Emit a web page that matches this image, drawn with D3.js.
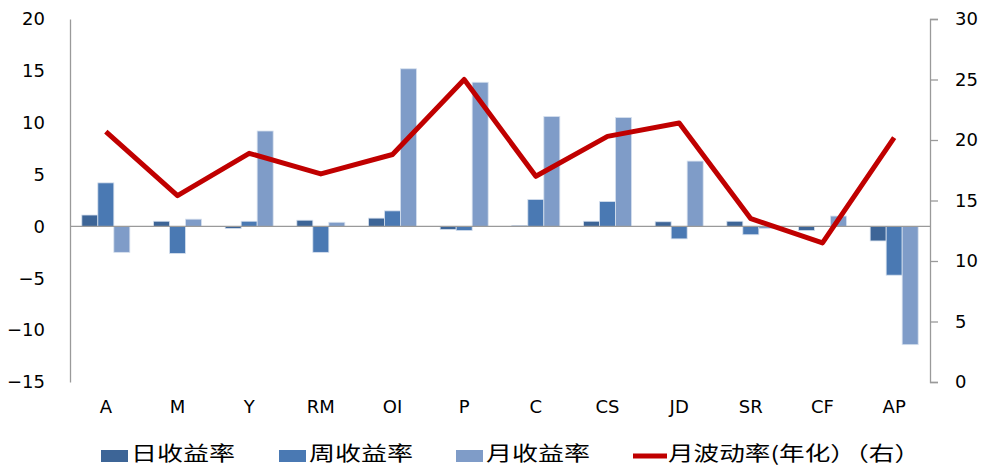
<!DOCTYPE html>
<html>
<head>
<meta charset="utf-8">
<script src="https://cdn.jsdelivr.net/npm/d3@7"></script>
<style>
  html, body { margin: 0; padding: 0; background: #fff; }
  svg { display: block; }
  .tick text { font-family: "DejaVu Sans", Verdana, sans-serif; font-size: 18px; fill: #000; }
  .legend text { font-family: "Noto Sans CJK SC", sans-serif; font-size: 20px; fill: #000; }
</style>
</head>
<body>
<svg id="chart" width="983" height="467"></svg>
<script>
// Contract symbols
const categories = ["A", "M", "Y", "RM", "OI", "P", "C", "CS", "JD", "SR", "CF", "AP"];
// Returns (%), left axis
const dailyReturn   = [1.1, 0.5, -0.2, 0.6, 0.8, -0.3, 0.1, 0.5, 0.45, 0.5, -0.4, -1.4];
const weeklyReturn  = [4.2, -2.6, 0.5, -2.5, 1.5, -0.4, 2.6, 2.4, -1.2, -0.8, 0.0, -4.7];
const monthlyReturn = [-2.5, 0.7, 9.2, 0.4, 15.2, 13.9, 10.6, 10.5, 6.3, -0.2, 1.0, -11.4];
// Annualised monthly volatility (%), right axis
const monthlyVol    = [20.7, 15.4, 18.9, 17.2, 18.8, 25.0, 17.0, 20.3, 21.4, 13.5, 11.5, 20.2];
// Axis ticks
const leftTicks  = [-15, -10, -5, 0, 5, 10, 15, 20];
const rightTicks = [0, 5, 10, 15, 20, 25, 30];
// Legend labels
const seriesNames = ["日收益率", "周收益率", "月收益率"];
const lineName = "月波动率(年化）（右）";

const barColors = ["#3D6597", "#4A79B3", "#7F9CC8"];
const lineColor = "#C00000";
const axisColor = "#9A9A9A";

const svg = d3.select("#chart");
const plot = { left: 70, right: 930, top: 19, bottom: 382 };

const x = d3.scaleBand().domain(categories).range([plot.left, plot.right]).padding(0);
const bw = x.bandwidth();
const groupW = 48;
const xs = d3.scaleBand().domain(d3.range(3)).range([(bw - groupW) / 2, (bw + groupW) / 2]).padding(0);
const yL = d3.scaleLinear().domain([-15, 20]).range([plot.bottom, plot.top]);
const yR = d3.scaleLinear().domain([0, 30]).range([plot.bottom, plot.top]);

// Left axis
const gL = svg.append("g")
  .attr("transform", `translate(${plot.left},0)`)
  .call(d3.axisLeft(yL).tickValues(leftTicks).tickSize(0).tickPadding(25).tickFormat(d3.format("d")));
gL.select(".domain").attr("stroke", axisColor).attr("stroke-width", 1.3);

// Right axis
const gR = svg.append("g")
  .attr("transform", `translate(${plot.right},0)`)
  .call(d3.axisRight(yR).tickValues(rightTicks).tickSize(8).tickSizeOuter(8).tickPadding(17).tickFormat(d3.format("d")));
gR.selectAll(".domain, line").attr("stroke", axisColor).attr("stroke-width", 1.3);

// Category labels
const gB = svg.append("g")
  .attr("transform", `translate(0,${plot.bottom})`)
  .call(d3.axisBottom(x).tickSize(0).tickPadding(18));
gB.select(".domain").remove();

// Bars
const seriesData = [dailyReturn, weeklyReturn, monthlyReturn];
seriesData.forEach((vals, si) => {
  svg.append("g").selectAll("rect")
    .data(vals)
    .join("rect")
    .attr("x", (d, i) => x(categories[i]) + xs(si))
    .attr("width", xs.bandwidth())
    .attr("y", d => yL(Math.max(0, d)))
    .attr("height", d => Math.abs(yL(d) - yL(0)))
    .attr("fill", barColors[si])
    .attr("stroke", "#D6E0EE")
    .attr("stroke-width", 0.8);
});

// Zero line
svg.append("line")
  .attr("x1", plot.left).attr("x2", plot.right)
  .attr("y1", yL(0)).attr("y2", yL(0))
  .attr("stroke", axisColor).attr("stroke-width", 1.3);

// Volatility line
const line = d3.line()
  .x((d, i) => x(categories[i]) + bw / 2)
  .y(d => yR(d));
svg.append("path")
  .datum(monthlyVol)
  .attr("d", line)
  .attr("fill", "none")
  .attr("stroke", lineColor)
  .attr("stroke-width", 5)
  .attr("stroke-linejoin", "round");

// Legend
const legend = svg.append("g").attr("class", "legend");
const legY = 454;
const itemX = [101, 279, 456];
seriesNames.forEach((name, i) => {
  legend.append("rect")
    .attr("x", itemX[i]).attr("y", legY - 4)
    .attr("width", 27).attr("height", 12)
    .attr("fill", barColors[i]);
  legend.append("text")
    .attr("x", itemX[i] + 30).attr("y", legY)
    .attr("dy", "0.35em")
    .attr("textLength", 104)
    .attr("lengthAdjust", "spacingAndGlyphs")
    .text(name);
});
legend.append("line")
  .attr("x1", 633).attr("x2", 667)
  .attr("y1", legY + 2).attr("y2", legY + 2)
  .attr("stroke", lineColor).attr("stroke-width", 5);
legend.append("text")
  .attr("x", 668).attr("y", legY)
  .attr("dy", "0.35em")
  .attr("textLength", 252)
  .attr("lengthAdjust", "spacingAndGlyphs")
  .text(lineName);
</script>
</body>
</html>
